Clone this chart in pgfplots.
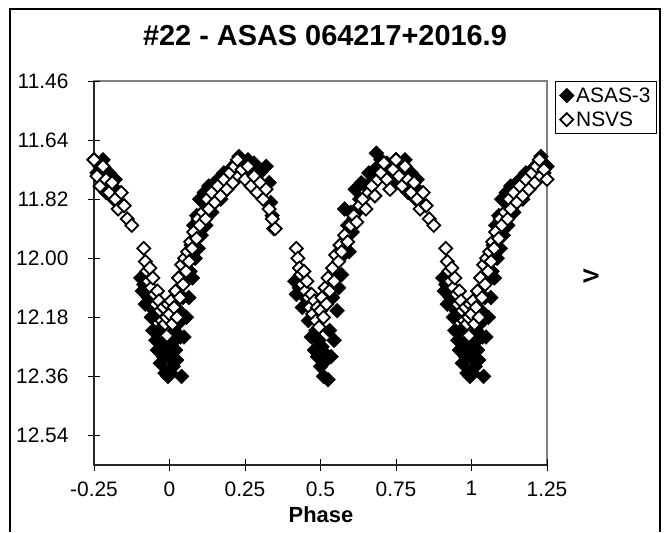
\documentclass[border=0pt]{standalone}
\usepackage{pgfplots}
\pgfplotsset{compat=1.18}
\usepackage{fontspec}
\setmainfont{Liberation Sans}

\begin{document}
\begin{tikzpicture}
\path (0bp,0bp) rectangle (666bp,532bp);
\draw[line width=1.2bp] (10bp,0bp) -- (10bp,523bp) -- (660bp,523bp) -- (660bp,0bp);
\node[font=\fontsize{29}{31}\selectfont\bfseries] at (325bp,496bp) {\#22 - ASAS 064217+2016.9};
\node[font=\fontsize{22}{24}\selectfont\bfseries] at (321bp,17bp) {Phase};
\node[font=\fontsize{22}{24}\selectfont\bfseries, rotate=90] at (591bp,256bp) {V};
\begin{axis}[
  at={(94bp,67bp)}, anchor=south west,
  scale only axis, width=453bp, height=384bp,
  xmin=-0.25, xmax=1.25, ymin=11.46, ymax=12.63, y dir=reverse,
  xtick={-0.25,0,0.25,0.5,0.75,1,1.25},
  xticklabels={-0.25,0,0.25,0.5,0.75,1,1.25},
  ytick={11.46,11.64,11.82,12.00,12.18,12.36,12.54},
  yticklabels={11.46,11.64,11.82,12.00,12.18,12.36,12.54},
  axis x line*=bottom, axis y line*=left,
  axis line style={line width=1.3bp, black!85},
  axis background/.style={draw=gray, line width=1.2bp},
  tick align=center, major tick length=12bp,
  tick style={black, line width=1bp},
  ticklabel style={font=\fontsize{21}{23}\selectfont},
  xticklabel style={yshift=-7bp},
  yticklabel style={xshift=-16bp},
  clip=false,
  legend style={at={(1.243,1.0)}, anchor=north east, draw=black, line width=1bp,
    font=\fontsize{21}{23}\selectfont, inner xsep=4bp, inner ysep=4bp, row sep=4bp},
  legend cell align=left,
]
\addplot[only marks, mark=square*, mark size=5.2bp, mark options={rotate=45, fill=black, draw=black, line width=0.5bp}] coordinates {
(-0.250,11.70) (-0.240,11.74) (-0.230,11.72) (-0.220,11.70) (-0.215,11.76) (-0.210,11.80) (-0.200,11.74) (-0.190,11.78) (-0.185,11.82) (-0.180,11.76) (-0.170,11.80) (-0.160,11.84)
(-0.095,12.06) (-0.090,12.10) (-0.085,12.08) (-0.080,12.14) (-0.070,12.12) (-0.060,12.18) (-0.055,12.22) (-0.050,12.16) (-0.045,12.25) (-0.040,12.28) (-0.035,12.22) (-0.030,12.32) (-0.025,12.26) (-0.020,12.30) (-0.015,12.35) (-0.010,12.28) (-0.005,12.36)
(0.000,12.30) (0.004,12.35) (0.008,12.26) (0.012,12.33) (0.016,12.22) (0.020,12.28) (0.024,12.31) (0.028,12.20) (0.032,12.16) (0.036,12.24) (0.040,12.36) (0.044,12.12) (0.048,12.24) (0.052,12.06) (0.056,12.18) (0.060,12.00) (0.064,12.12) (0.068,12.04) (0.072,11.96) (0.076,12.06) (0.080,11.90) (0.085,12.00) (0.090,11.87) (0.095,11.97) (0.100,11.82) (0.105,11.93) (0.110,11.88) (0.115,11.80) (0.120,11.90) (0.125,11.84) (0.130,11.78) (0.140,11.86) (0.150,11.80) (0.160,11.76) (0.170,11.82) (0.180,11.74) (0.190,11.79) (0.200,11.73) (0.210,11.77) (0.220,11.71) (0.230,11.69) (0.240,11.74) (0.250,11.72)
(0.260,11.70) (0.270,11.72) (0.280,11.71) (0.290,11.76) (0.300,11.74) (0.310,11.79) (0.320,11.72) (0.330,11.77) (0.335,11.83) (0.340,11.87) (0.345,11.91)
(0.415,12.07) (0.420,12.11) (0.430,12.09) (0.440,12.15) (0.450,12.12) (0.460,12.19) (0.470,12.24) (0.475,12.17) (0.480,12.28) (0.485,12.22) (0.490,12.30) (0.495,12.25) (0.500,12.33) (0.505,12.27) (0.510,12.36) (0.515,12.29) (0.520,12.31) (0.525,12.37) (0.530,12.22) (0.535,12.30) (0.540,12.12) (0.545,12.25) (0.550,12.06) (0.555,12.16) (0.560,12.09) (0.565,11.96) (0.570,12.05) (0.575,11.99) (0.580,11.85) (0.585,11.95) (0.590,11.90) (0.595,11.98) (0.600,11.86) (0.605,11.92) (0.610,11.88) (0.615,11.79) (0.620,11.86) (0.630,11.82) (0.635,11.77) (0.640,11.84) (0.650,11.78) (0.660,11.74) (0.670,11.77) (0.680,11.73) (0.685,11.68) (0.690,11.72) (0.700,11.70) (0.710,11.74) (0.720,11.71) (0.730,11.73) (0.740,11.77)
(0.750,11.70) (0.760,11.74) (0.770,11.72) (0.780,11.70) (0.785,11.76) (0.790,11.80) (0.800,11.74) (0.810,11.78) (0.815,11.82) (0.820,11.76) (0.830,11.80) (0.840,11.84)
(0.905,12.06) (0.910,12.10) (0.915,12.08) (0.920,12.14) (0.930,12.12) (0.940,12.18) (0.945,12.22) (0.950,12.16) (0.955,12.25) (0.960,12.28) (0.965,12.22) (0.970,12.32) (0.975,12.26) (0.980,12.30) (0.985,12.35) (0.990,12.28) (0.995,12.36)
(1.000,12.30) (1.004,12.35) (1.008,12.26) (1.012,12.33) (1.016,12.22) (1.020,12.28) (1.024,12.31) (1.028,12.20) (1.032,12.16) (1.036,12.24) (1.040,12.36) (1.044,12.12) (1.048,12.24) (1.052,12.06) (1.056,12.18) (1.060,12.00) (1.064,12.12) (1.068,12.04) (1.072,11.96) (1.076,12.06) (1.080,11.90) (1.085,12.00) (1.090,11.87) (1.095,11.97) (1.100,11.82) (1.105,11.93) (1.110,11.88) (1.115,11.80) (1.120,11.90) (1.125,11.84) (1.130,11.78) (1.140,11.86) (1.150,11.80) (1.160,11.76) (1.170,11.82) (1.180,11.74) (1.190,11.79) (1.200,11.73) (1.210,11.77) (1.220,11.71) (1.230,11.69) (1.240,11.74) (1.250,11.72)
};
\addlegendentry{ASAS-3}
\addplot[only marks, mark=square*, mark size=4.6bp, mark options={rotate=45, fill=white, draw=black, line width=1.8bp}] coordinates {
(-0.250,11.70) (-0.240,11.75) (-0.230,11.78) (-0.220,11.72) (-0.210,11.76) (-0.200,11.80) (-0.190,11.77) (-0.180,11.82) (-0.170,11.85) (-0.160,11.80) (-0.150,11.84) (-0.140,11.88) (-0.125,11.90)
(-0.085,11.97) (-0.080,12.01) (-0.075,12.04) (-0.070,12.07) (-0.065,12.03) (-0.060,12.09) (-0.055,12.06) (-0.050,12.11) (-0.045,12.14) (-0.040,12.10) (-0.035,12.13) (-0.030,12.16) (-0.025,12.19) (-0.020,12.15) (-0.015,12.20) (-0.010,12.18) (-0.005,12.14)
(0.000,12.17) (0.005,12.13) (0.010,12.20) (0.015,12.15) (0.020,12.10) (0.025,12.18) (0.030,12.06) (0.035,12.12) (0.040,12.02) (0.045,12.08) (0.050,12.00) (0.055,12.04) (0.060,11.98) (0.065,12.01) (0.070,11.95) (0.075,11.97) (0.080,11.92) (0.090,11.94) (0.095,11.88) (0.100,11.90) (0.110,11.86) (0.120,11.88) (0.125,11.82) (0.130,11.85) (0.140,11.80) (0.150,11.83) (0.160,11.78) (0.170,11.81) (0.180,11.76) (0.190,11.79) (0.200,11.74) (0.210,11.77) (0.215,11.72) (0.225,11.70) (0.230,11.75) (0.240,11.73) (0.250,11.76) (0.260,11.72) (0.270,11.78) (0.280,11.75) (0.290,11.80) (0.300,11.77) (0.310,11.82) (0.320,11.79) (0.330,11.85) (0.340,11.88) (0.350,11.91)
(0.420,11.97) (0.425,12.00) (0.430,12.03) (0.435,12.05) (0.440,12.08) (0.445,12.04) (0.450,12.10) (0.455,12.07) (0.460,12.12) (0.465,12.15) (0.470,12.11) (0.475,12.17) (0.480,12.13) (0.485,12.19) (0.490,12.15) (0.495,12.21) (0.500,12.16) (0.505,12.12) (0.510,12.18) (0.515,12.09) (0.520,12.14) (0.525,12.06) (0.530,12.10) (0.540,12.03) (0.545,12.07) (0.550,11.99) (0.560,12.01) (0.565,11.96) (0.570,11.98) (0.580,11.93) (0.590,11.95) (0.600,11.90) (0.610,11.87) (0.620,11.89) (0.630,11.84) (0.640,11.82) (0.650,11.85) (0.660,11.80) (0.670,11.78) (0.680,11.81) (0.690,11.76) (0.700,11.74) (0.710,11.71) (0.720,11.76) (0.730,11.79) (0.740,11.73)
(0.750,11.70) (0.760,11.75) (0.770,11.78) (0.780,11.72) (0.790,11.76) (0.800,11.80) (0.810,11.77) (0.820,11.82) (0.830,11.85) (0.840,11.80) (0.850,11.84) (0.860,11.88) (0.875,11.90)
(0.915,11.97) (0.920,12.01) (0.925,12.04) (0.930,12.07) (0.935,12.03) (0.940,12.09) (0.945,12.06) (0.950,12.11) (0.955,12.14) (0.960,12.10) (0.965,12.13) (0.970,12.16) (0.975,12.19) (0.980,12.15) (0.985,12.20) (0.990,12.18) (0.995,12.14)
(1.000,12.17) (1.005,12.13) (1.010,12.20) (1.015,12.15) (1.020,12.10) (1.025,12.18) (1.030,12.06) (1.035,12.12) (1.040,12.02) (1.045,12.08) (1.050,12.00) (1.055,12.04) (1.060,11.98) (1.065,12.01) (1.070,11.95) (1.075,11.97) (1.080,11.92) (1.090,11.94) (1.095,11.88) (1.100,11.90) (1.110,11.86) (1.120,11.88) (1.125,11.82) (1.130,11.85) (1.140,11.80) (1.150,11.83) (1.160,11.78) (1.170,11.81) (1.180,11.76) (1.190,11.79) (1.200,11.74) (1.210,11.77) (1.215,11.72) (1.225,11.70) (1.230,11.75) (1.240,11.73) (1.250,11.76)
};
\addlegendentry{NSVS}
\end{axis}
\end{tikzpicture}
\end{document}
